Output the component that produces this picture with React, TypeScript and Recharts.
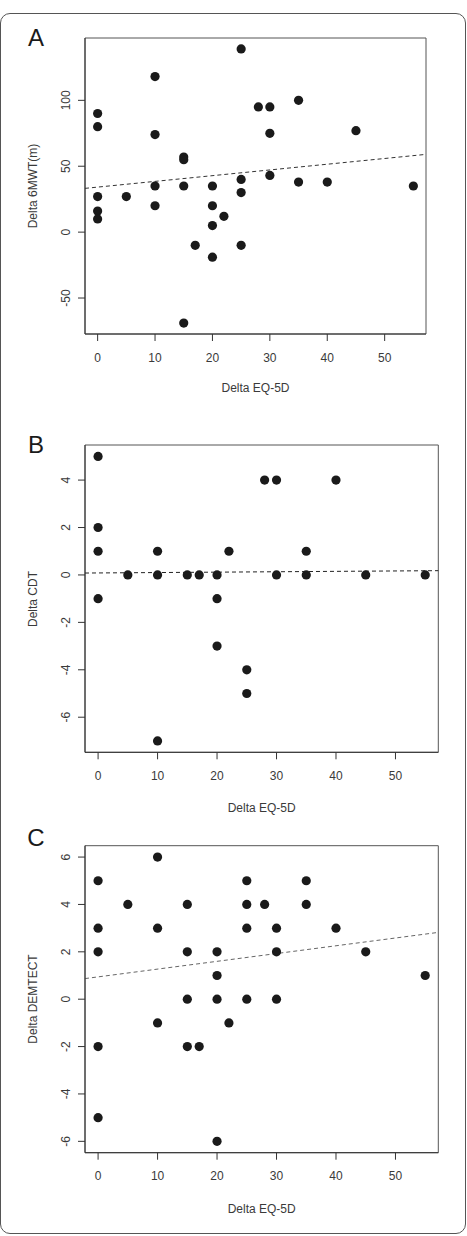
import {
  ReferenceArea,
  ReferenceLine,
  Scatter,
  ScatterChart,
  XAxis,
  YAxis,
} from "recharts";

// Delta EQ-5D (x) against each outcome (y)
const eqA = [0, 0, 0, 0, 0, 5, 10, 10, 10, 10, 15, 15, 15, 15, 17, 20, 20, 20, 20, 22, 25, 25, 25, 25, 28, 30, 30, 30, 35, 35, 40, 45, 55];
const mwt = [90, 80, 27, 16, 10, 27, 118, 74, 35, 20, 57, 55, 35, -69, -10, 35, 20, 5, -19, 12, 139, 40, 30, -10, 95, 95, 75, 43, 100, 38, 38, 77, 35];

const eqB = [0, 0, 0, 0, 5, 10, 10, 10, 15, 17, 20, 20, 20, 22, 25, 25, 28, 30, 30, 35, 35, 40, 45, 55];
const cdt = [5, 2, 1, -1, 0, 1, 0, -7, 0, 0, 0, -1, -3, 1, -4, -5, 4, 4, 0, 1, 0, 4, 0, 0];

const eqC = [0, 0, 0, 0, 0, 5, 10, 10, 10, 15, 15, 15, 15, 17, 20, 20, 20, 20, 22, 25, 25, 25, 25, 28, 30, 30, 30, 35, 35, 40, 45, 55];
const demtect = [5, 3, 2, -2, -5, 4, 6, 3, -1, 4, 2, 0, -2, -2, 2, 1, 0, -6, -1, 5, 4, 3, 0, 4, 3, 2, 0, 5, 4, 3, 2, 1];

// dashed fit lines, endpoints at the plot edges
const fitA = [{ x: -2.2, y: 33.2 }, { x: 57.2, y: 59 }];
const fitB = [{ x: -2.2, y: 0.08 }, { x: 57.2, y: 0.18 }];
const fitC = [{ x: -2.2, y: 0.87 }, { x: 57.2, y: 2.82 }];

const xTicks = [0, 10, 20, 30, 40, 50];
const xDomain: [number, number] = [-2.2, 57.2];

const FONT = '"Liberation Sans", Arial, Helvetica, sans-serif';
const INK = "#3a3a3a";

const zip = (xs: number[], ys: number[]) => xs.map((x, i) => ({ x, y: ys[i] }));

function YTick(props: any) {
  const { x, y, payload } = props;
  const tx = x - 6;
  return (
    <text
      x={tx}
      y={y}
      transform={`rotate(-90 ${tx} ${y})`}
      textAnchor="middle"
      fontSize={12}
      fontFamily={FONT}
      fill={INK}
    >
      {payload.value}
    </text>
  );
}

const Dot = (p: any) => <circle cx={p.cx} cy={p.cy} r={4.6} fill="#1a1a1a" />;

interface PanelProps {
  top: number;
  margin: { top: number; right: number; bottom: number; left: number };
  points: { x: number; y: number }[];
  yDomain: [number, number];
  yTicks: number[];
  fit: { x: number; y: number }[];
  fitColor: string;
}

function Panel({ top, margin, points, yDomain, yTicks, fit, fitColor }: PanelProps) {
  return (
    <div style={{ position: "absolute", left: 0, top }}>
      <ScatterChart width={467} height={400} margin={margin}>
        <XAxis
          type="number"
          dataKey="x"
          domain={xDomain}
          ticks={xTicks}
          allowDataOverflow
          height={30}
          tickSize={7}
          tickMargin={12}
          axisLine={{ stroke: "#333" }}
          tickLine={{ stroke: "#333" }}
          tick={{ fill: INK, fontSize: 12, fontFamily: FONT }}
        />
        <YAxis
          type="number"
          dataKey="y"
          domain={yDomain}
          ticks={yTicks}
          allowDataOverflow
          width={30}
          tickSize={7}
          axisLine={{ stroke: "#333" }}
          tickLine={{ stroke: "#333" }}
          tick={<YTick />}
        />
        <ReferenceArea
          x1={xDomain[0]}
          x2={xDomain[1]}
          y1={yDomain[0]}
          y2={yDomain[1]}
          fill="none"
          stroke="#555"
          strokeWidth={1}
        />
        <ReferenceLine
          segment={fit}
          stroke={fitColor}
          strokeWidth={1}
          strokeDasharray="4 3"
        />
        <Scatter data={points} shape={Dot} isAnimationActive={false} />
      </ScatterChart>
    </div>
  );
}

function Abs({ x, y, children, rotate, size = 12, color = INK }: any) {
  return (
    <div
      style={{
        position: "absolute",
        left: x,
        top: y,
        transform: `translate(-50%, -50%)${rotate ? " rotate(-90deg)" : ""}`,
        whiteSpace: "nowrap",
        fontFamily: FONT,
        fontSize: size,
        lineHeight: `${size + 2}px`,
        color,
      }}
    >
      {children}
    </div>
  );
}

export default function App() {
  return (
    <div style={{ position: "absolute", left: 0, top: 0, width: 467, height: 1236, background: "#fff" }}>
      <div
        style={{
          position: "absolute",
          left: 0,
          top: 13,
          width: 466,
          height: 1221,
          boxSizing: "border-box",
          border: "1.5px solid #555",
          borderRadius: 10,
        }}
      />
      <Panel
        top={0}
        margin={{ top: 38, right: 41, bottom: 36, left: 55 }}
        points={zip(eqA, mwt)}
        yDomain={[-77.3, 147.3]}
        yTicks={[-50, 0, 50, 100]}
        fit={fitA}
        fitColor="#333"
      />
      <Panel
        top={410}
        margin={{ top: 35, right: 28.7, bottom: 27.7, left: 55 }}
        points={zip(eqB, cdt)}
        yDomain={[-7.48, 5.48]}
        yTicks={[-6, -4, -2, 0, 2, 4]}
        fit={fitB}
        fitColor="#222"
      />
      <Panel
        top={820}
        margin={{ top: 25.7, right: 28.7, bottom: 37.3, left: 55 }}
        points={zip(eqC, demtect)}
        yDomain={[-6.48, 6.48]}
        yTicks={[-6, -4, -2, 0, 2, 4, 6]}
        fit={fitC}
        fitColor="#666"
      />

      <Abs x={36} y={38} size={24} color="#1a1a1a">A</Abs>
      <Abs x={36} y={445} size={24} color="#1a1a1a">B</Abs>
      <Abs x={36} y={838} size={24} color="#1a1a1a">C</Abs>

      <Abs x={33} y={186} rotate>Delta 6MWT(m)</Abs>
      <Abs x={33} y={599} rotate>Delta CDT</Abs>
      <Abs x={33} y={999} rotate>Delta DEMTECT</Abs>

      <Abs x={255.5} y={388}>Delta EQ-5D</Abs>
      <Abs x={261.7} y={808}>Delta EQ-5D</Abs>
      <Abs x={261.7} y={1209}>Delta EQ-5D</Abs>
    </div>
  );
}
